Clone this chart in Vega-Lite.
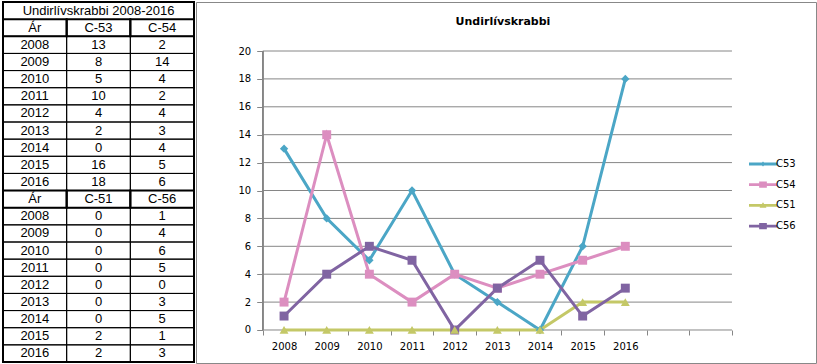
{
  "$schema": "https://vega.github.io/schema/vega-lite/v6.json",
  "padding": {"left": 1, "top": 1, "right": 0, "bottom": 0},
  "background": "white",
  "spacing": -4,
  "config": {"view": {"stroke": null}, "font": "DejaVu Sans", "axis": {"labelOverlap": false}},
  "datasets": {
    "table": [
      {"row": 0, "col": 1, "text": "Undirlívskrabbi 2008-2016", "kind": "title"},
      {"row": 1, "col": 0, "text": "Ár", "kind": "header"},
      {"row": 1, "col": 1, "text": "C-53", "kind": "header"},
      {"row": 1, "col": 2, "text": "C-54", "kind": "header"},
      {"row": 2, "col": 0, "text": "2008", "kind": "data"},
      {"row": 2, "col": 1, "text": "13", "kind": "data"},
      {"row": 2, "col": 2, "text": "2", "kind": "data"},
      {"row": 3, "col": 0, "text": "2009", "kind": "data"},
      {"row": 3, "col": 1, "text": "8", "kind": "data"},
      {"row": 3, "col": 2, "text": "14", "kind": "data"},
      {"row": 4, "col": 0, "text": "2010", "kind": "data"},
      {"row": 4, "col": 1, "text": "5", "kind": "data"},
      {"row": 4, "col": 2, "text": "4", "kind": "data"},
      {"row": 5, "col": 0, "text": "2011", "kind": "data"},
      {"row": 5, "col": 1, "text": "10", "kind": "data"},
      {"row": 5, "col": 2, "text": "2", "kind": "data"},
      {"row": 6, "col": 0, "text": "2012", "kind": "data"},
      {"row": 6, "col": 1, "text": "4", "kind": "data"},
      {"row": 6, "col": 2, "text": "4", "kind": "data"},
      {"row": 7, "col": 0, "text": "2013", "kind": "data"},
      {"row": 7, "col": 1, "text": "2", "kind": "data"},
      {"row": 7, "col": 2, "text": "3", "kind": "data"},
      {"row": 8, "col": 0, "text": "2014", "kind": "data"},
      {"row": 8, "col": 1, "text": "0", "kind": "data"},
      {"row": 8, "col": 2, "text": "4", "kind": "data"},
      {"row": 9, "col": 0, "text": "2015", "kind": "data"},
      {"row": 9, "col": 1, "text": "16", "kind": "data"},
      {"row": 9, "col": 2, "text": "5", "kind": "data"},
      {"row": 10, "col": 0, "text": "2016", "kind": "data"},
      {"row": 10, "col": 1, "text": "18", "kind": "data"},
      {"row": 10, "col": 2, "text": "6", "kind": "data"},
      {"row": 11, "col": 0, "text": "Ár", "kind": "header"},
      {"row": 11, "col": 1, "text": "C-51", "kind": "header"},
      {"row": 11, "col": 2, "text": "C-56", "kind": "header"},
      {"row": 12, "col": 0, "text": "2008", "kind": "data"},
      {"row": 12, "col": 1, "text": "0", "kind": "data"},
      {"row": 12, "col": 2, "text": "1", "kind": "data"},
      {"row": 13, "col": 0, "text": "2009", "kind": "data"},
      {"row": 13, "col": 1, "text": "0", "kind": "data"},
      {"row": 13, "col": 2, "text": "4", "kind": "data"},
      {"row": 14, "col": 0, "text": "2010", "kind": "data"},
      {"row": 14, "col": 1, "text": "0", "kind": "data"},
      {"row": 14, "col": 2, "text": "6", "kind": "data"},
      {"row": 15, "col": 0, "text": "2011", "kind": "data"},
      {"row": 15, "col": 1, "text": "0", "kind": "data"},
      {"row": 15, "col": 2, "text": "5", "kind": "data"},
      {"row": 16, "col": 0, "text": "2012", "kind": "data"},
      {"row": 16, "col": 1, "text": "0", "kind": "data"},
      {"row": 16, "col": 2, "text": "0", "kind": "data"},
      {"row": 17, "col": 0, "text": "2013", "kind": "data"},
      {"row": 17, "col": 1, "text": "0", "kind": "data"},
      {"row": 17, "col": 2, "text": "3", "kind": "data"},
      {"row": 18, "col": 0, "text": "2014", "kind": "data"},
      {"row": 18, "col": 1, "text": "0", "kind": "data"},
      {"row": 18, "col": 2, "text": "5", "kind": "data"},
      {"row": 19, "col": 0, "text": "2015", "kind": "data"},
      {"row": 19, "col": 1, "text": "2", "kind": "data"},
      {"row": 19, "col": 2, "text": "1", "kind": "data"},
      {"row": 20, "col": 0, "text": "2016", "kind": "data"},
      {"row": 20, "col": 1, "text": "2", "kind": "data"},
      {"row": 20, "col": 2, "text": "3", "kind": "data"}
    ],
    "series": [
      {"year": 2008, "series": "C53", "value": 13},
      {"year": 2009, "series": "C53", "value": 8},
      {"year": 2010, "series": "C53", "value": 5},
      {"year": 2011, "series": "C53", "value": 10},
      {"year": 2012, "series": "C53", "value": 4},
      {"year": 2013, "series": "C53", "value": 2},
      {"year": 2014, "series": "C53", "value": 0},
      {"year": 2015, "series": "C53", "value": 6},
      {"year": 2016, "series": "C53", "value": 18},
      {"year": 2008, "series": "C54", "value": 2},
      {"year": 2009, "series": "C54", "value": 14},
      {"year": 2010, "series": "C54", "value": 4},
      {"year": 2011, "series": "C54", "value": 2},
      {"year": 2012, "series": "C54", "value": 4},
      {"year": 2013, "series": "C54", "value": 3},
      {"year": 2014, "series": "C54", "value": 4},
      {"year": 2015, "series": "C54", "value": 5},
      {"year": 2016, "series": "C54", "value": 6},
      {"year": 2008, "series": "C51", "value": 0},
      {"year": 2009, "series": "C51", "value": 0},
      {"year": 2010, "series": "C51", "value": 0},
      {"year": 2011, "series": "C51", "value": 0},
      {"year": 2012, "series": "C51", "value": 0},
      {"year": 2013, "series": "C51", "value": 0},
      {"year": 2014, "series": "C51", "value": 0},
      {"year": 2015, "series": "C51", "value": 2},
      {"year": 2016, "series": "C51", "value": 2},
      {"year": 2008, "series": "C56", "value": 1},
      {"year": 2009, "series": "C56", "value": 4},
      {"year": 2010, "series": "C56", "value": 6},
      {"year": 2011, "series": "C56", "value": 5},
      {"year": 2012, "series": "C56", "value": 0},
      {"year": 2013, "series": "C56", "value": 3},
      {"year": 2014, "series": "C56", "value": 5},
      {"year": 2015, "series": "C56", "value": 1},
      {"year": 2016, "series": "C56", "value": 3}
    ],
    "gridlines": [
      {"v": 0}, {"v": 2}, {"v": 4}, {"v": 6}, {"v": 8}, {"v": 10},
      {"v": 12}, {"v": 14}, {"v": 16}, {"v": 18}, {"v": 20}
    ]
  },
  "hconcat": [
    {
      "width": 191,
      "height": 360,
      "data": {"name": "table"},
      "view": {"stroke": "black", "strokeWidth": 2},
      "encoding": {
        "x": {"field": "col", "type": "ordinal", "scale": {"paddingInner": 0, "paddingOuter": 0}, "axis": null},
        "y": {"field": "row", "type": "ordinal", "scale": {"paddingInner": 0, "paddingOuter": 0}, "axis": null}
      },
      "layer": [
        {
          "transform": [{"filter": "datum.kind !== 'title'"}],
          "mark": {"type": "rect", "filled": false, "stroke": "black"},
          "encoding": {
            "strokeWidth": {"condition": {"test": "datum.kind === 'header'", "value": 2}, "value": 1}
          }
        },
        {
          "mark": {"type": "text", "font": "Liberation Sans", "fontSize": 13, "color": "black", "baseline": "middle", "align": "center"},
          "encoding": {
            "text": {"field": "text", "type": "nominal"},
            "fontWeight": {"condition": {"test": "datum.kind === 'title'", "value": "bold"}, "value": "normal"}
          }
        }
      ]
    },
    {
      "width": 620,
      "height": 361,
      "view": {"stroke": "#888888", "strokeWidth": 1},
      "title": {"text": "Undirlívskrabbi", "font": "DejaVu Sans", "fontSize": 11, "fontWeight": "bold", "offset": -25, "anchor": "middle", "dx": -3, "color": "black"},
      "layer": [
        {
          "data": {"name": "gridlines"},
          "mark": {"type": "rule", "color": "#868686", "strokeWidth": 1},
          "encoding": {
            "y": {"field": "v", "type": "quantitative"},
            "x": {"datum": 2007.5},
            "x2": {"datum": 2018.5}
          }
        },
        {
          "data": {"name": "gridlines"},
          "mark": {"type": "rule", "color": "#868686", "strokeWidth": 1},
          "encoding": {
            "x": {"datum": 2007.5, "type": "quantitative"},
            "y": {"datum": 0, "type": "quantitative"},
            "y2": {"datum": 20}
          }
        },
        {
          "data": {"name": "series"},
          "layer": [
            {"mark": {"type": "line", "strokeWidth": 3}},
            {"transform": [{"filter": "datum.series === 'C53'"}], "mark": {"type": "point", "shape": "diamond", "filled": true, "opacity": 1, "size": 70}},
            {"transform": [{"filter": "datum.series === 'C54' || datum.series === 'C56'"}], "mark": {"type": "point", "shape": "square", "filled": true, "opacity": 1, "size": 80}},
            {"transform": [{"filter": "datum.series === 'C51'"}], "mark": {"type": "point", "shape": "triangle-up", "filled": true, "opacity": 1, "size": 80}}
          ],
          "encoding": {
            "x": {"field": "year", "type": "quantitative",
              "scale": {"domain": [2005.936, 2020.47], "nice": false, "zero": false},
              "axis": {"title": null, "values": [2008, 2009, 2010, 2011, 2012, 2013, 2014, 2015, 2016, 2017, 2018, 2019], "tickCount": 40, "tickOffset": -21.32, "labelOffset": 21.32, "grid": false, "domain": false, "offset": -33, "tickSize": 5, "tickColor": "#868686", "labelPadding": 6, "labelFont": "DejaVu Sans", "labelFontSize": 10, "labelColor": "black", "labelOverlap": false, "labelBound": false, "labelFlush": false, "format": "d", "labelExpr": "datum.value <= 2016 ? datum.label : ''"}},
            "y": {"field": "value", "type": "quantitative",
              "scale": {"domain": [-2.366, 23.513], "nice": false, "zero": false},
              "axis": {"title": null, "values": [0, 2, 4, 6, 8, 10, 12, 14, 16, 18, 20], "tickCount": 40, "format": "d", "grid": false, "domain": false, "offset": -66.7, "tickColor": "#868686", "tickSize": 6, "labelPadding": 6, "labelOverlap": false, "labelFont": "DejaVu Sans", "labelFontSize": 10, "labelColor": "black"}},
            "color": {
              "field": "series", "type": "nominal",
              "scale": {"domain": ["C53", "C54", "C51", "C56"], "range": ["#4BA6C6", "#DC8EC0", "#C4C867", "#8064A2"]},
              "legend": {
                "orient": "none", "legendX": 753, "legendY": 155, "title": null, "padding": 0,
                "symbolSize": 196, "rowPadding": 8.7, "labelOffset": 6,
                "labelFont": "DejaVu Sans", "labelFontSize": 10, "labelColor": "black",
                "encode": {
                  "symbols": {
                    "update": {
                      "shape": {"signal": "datum.value === 'C53' ? 'M-2,-0.2H2V0.2H-2Z M0,-0.35L0.35,0L0,0.35L-0.35,0Z' : datum.value === 'C51' ? 'M-2,-0.2H2V0.2H-2Z M0,-0.45L0.5,0.35H-0.5Z' : 'M-2,-0.2H2V0.2H-2Z M-0.55,-0.45H0.55V0.45H-0.55Z'"},
                      "fill": {"signal": "datum.value === 'C53' ? '#4BA6C6' : datum.value === 'C54' ? '#DC8EC0' : datum.value === 'C51' ? '#C4C867' : '#8064A2'"},
                      "fillOpacity": {"value": 1},
                      "opacity": {"value": 1},
                      "stroke": {"value": "transparent"},
                      "strokeWidth": {"value": 0}
                    }
                  }
                }
              }
            }
          }
        }
      ]
    }
  ]
}
